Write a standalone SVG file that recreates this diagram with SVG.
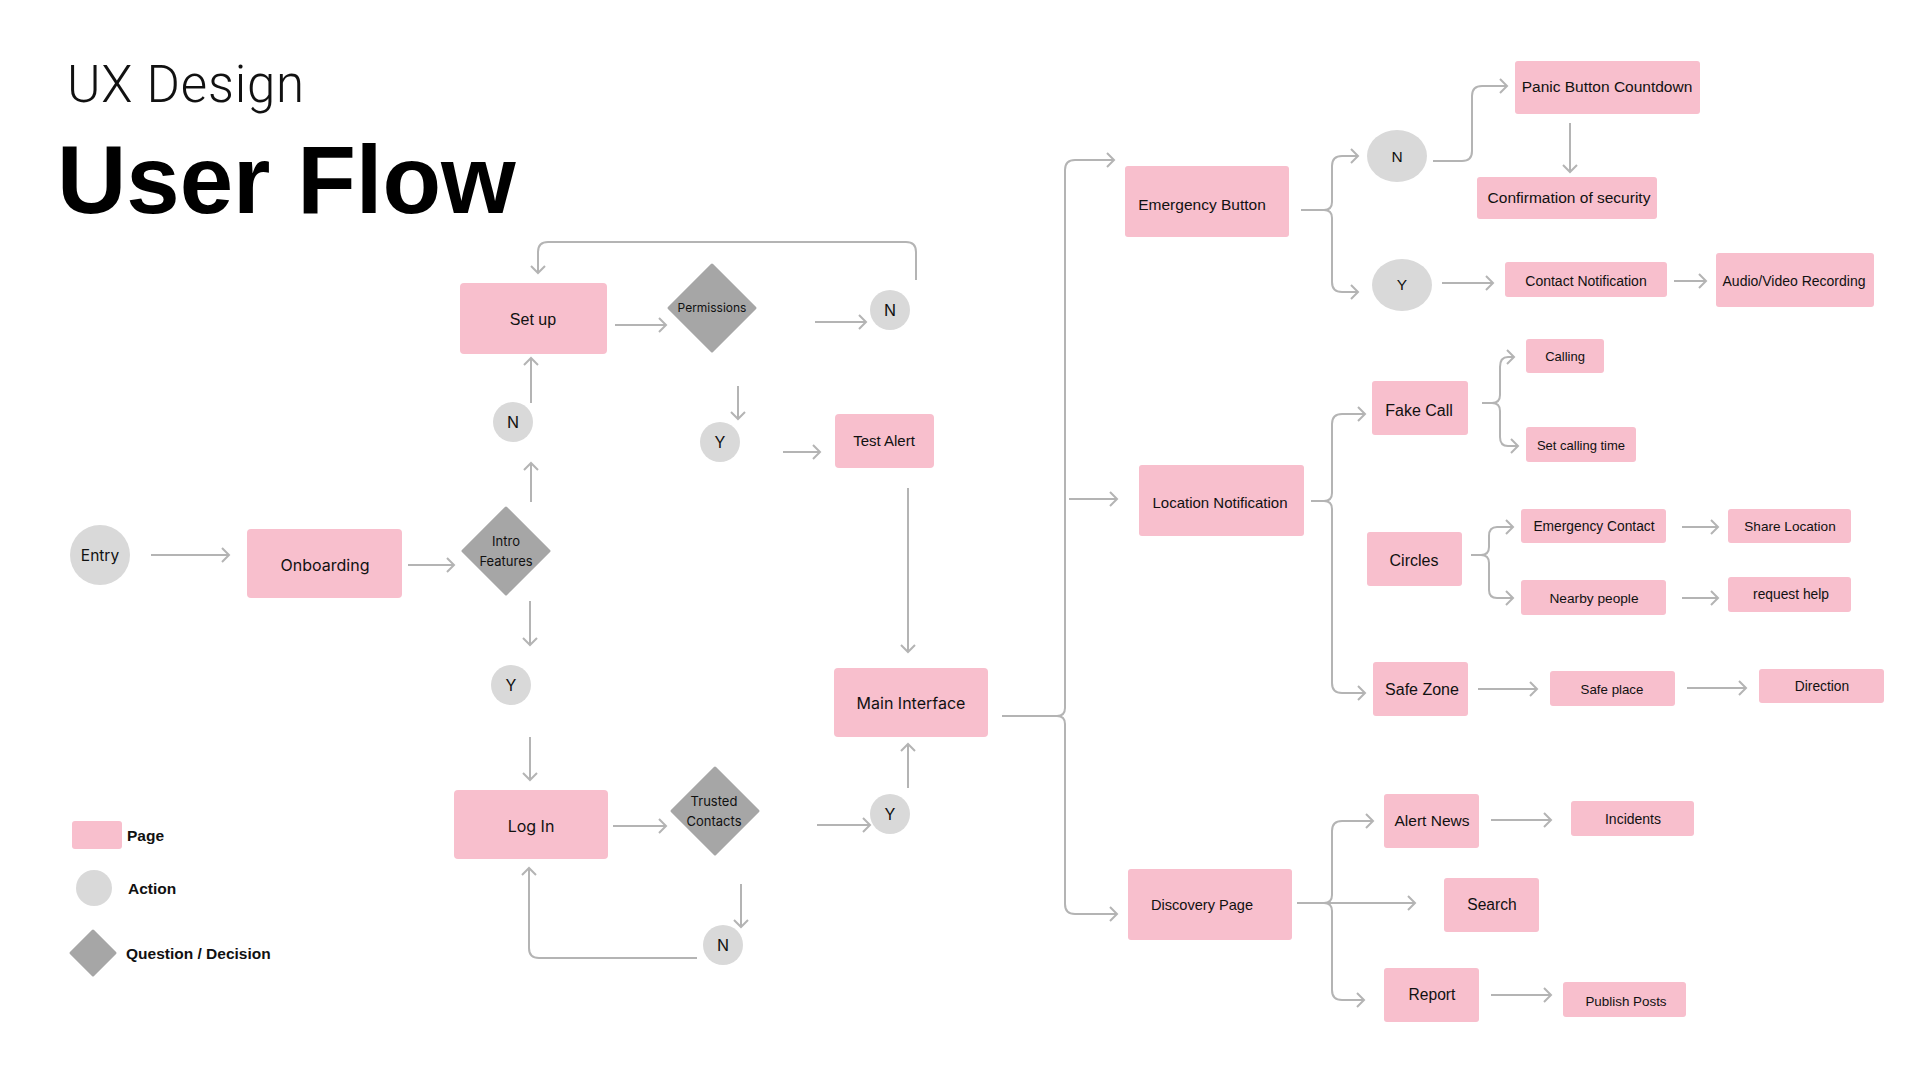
<svg xmlns="http://www.w3.org/2000/svg" width="1920" height="1080" viewBox="0 0 1920 1080">
<defs>
<style>
.pg{fill:#F8BFCD}
.ac{fill:#D9D9D9}
.dc{fill:#A6A6A6;stroke:#A6A6A6;stroke-width:3;stroke-linejoin:round}
.c path{fill:none;stroke:#B4B4B4;stroke-width:2}
.ar{marker-end:url(#ah)}
.ti{font-family:Inter,"Liberation Sans",sans-serif;fill:#111;text-anchor:middle}
.tl{font-family:"Liberation Sans",Arial,sans-serif;fill:#111;text-anchor:middle}
.lg{font-family:"Liberation Sans",Arial,sans-serif;font-weight:bold;font-size:15.5px;fill:#111}
</style>
<marker id="ah" viewBox="-9 -9 11 18" refX="0" refY="0" markerWidth="11" markerHeight="18" markerUnits="userSpaceOnUse" orient="auto">
<path d="M-7,-7 L0,0 L-7,7" fill="none" stroke="#B4B4B4" stroke-width="2"/>
</marker>
</defs>
<rect width="1920" height="1080" fill="#fff"/>

<text x="67" y="102" font-family="Roboto,'Liberation Sans',sans-serif" font-weight="300" font-size="51" letter-spacing="0.8" fill="#111">UX Design</text>
<text x="57" y="213" font-family="'Liberation Sans',Arial,sans-serif" font-weight="bold" font-size="96" fill="#000">User Flow</text>

<g id="connectors" class="c">
<path class="ar" d="M151,555 H229"/>
<path class="ar" d="M408,565 H454"/>
<path class="ar" d="M531,502 V463"/>
<path class="ar" d="M531,403 V358"/>
<path class="ar" d="M615,325 H666"/>
<path class="ar" d="M815,322 H866"/>
<path class="ar" d="M916,280 V252 Q916,242 906,242 H548 Q538,242 538,252 V273"/>
<path class="ar" d="M738,386 V419"/>
<path class="ar" d="M783,452 H820"/>
<path class="ar" d="M908,488 V652"/>
<path class="ar" d="M530,601 V645"/>
<path class="ar" d="M530,737 V780"/>
<path class="ar" d="M613,826 H666"/>
<path class="ar" d="M817,825 H870"/>
<path class="ar" d="M908,788 V744"/>
<path class="ar" d="M741,884 V927"/>
<path class="ar" d="M697,958 H539 Q529,958 529,948 V868"/>

<path class="ar" d="M1002,716 H1057 Q1065,716 1065,708 V170 Q1065,160 1075,160 H1114"/>
<path class="ar" d="M1057,716 Q1065,716 1065,724 V904 Q1065,914 1075,914 H1117"/>
<path class="ar" d="M1069,499 H1117"/>

<path class="ar" d="M1301,210 H1324 Q1332,210 1332,202 V166 Q1332,156 1342,156 H1358"/>
<path class="ar" d="M1324,210 Q1332,210 1332,218 V282 Q1332,292 1342,292 H1358"/>
<path class="ar" d="M1433,161 H1462 Q1472,161 1472,151 V96 Q1472,86 1482,86 H1507"/>
<path class="ar" d="M1570,123 V172"/>
<path class="ar" d="M1442,283 H1493"/>
<path class="ar" d="M1674,281 H1706"/>

<path class="ar" d="M1311,501 H1324 Q1332,501 1332,493 V424 Q1332,414 1342,414 H1365"/>
<path class="ar" d="M1324,501 Q1332,501 1332,509 V683 Q1332,693 1342,693 H1365"/>
<path class="ar" d="M1482,403 H1492 Q1500,403 1500,395 V367 Q1500,357 1508,357 H1514"/>
<path class="ar" d="M1492,403 Q1500,403 1500,411 V437 Q1500,446 1508,446 H1518"/>
<path class="ar" d="M1471,555 H1481 Q1489,555 1489,547 V536 Q1489,527 1497,527 H1513"/>
<path class="ar" d="M1481,555 Q1489,555 1489,563 V590 Q1489,598 1497,598 H1513"/>
<path class="ar" d="M1682,527 H1718"/>
<path class="ar" d="M1682,598 H1718"/>
<path class="ar" d="M1478,689 H1537"/>
<path class="ar" d="M1687,688 H1746"/>

<path class="ar" d="M1297,903 H1324 Q1332,903 1332,895 V831 Q1332,821 1342,821 H1373"/>
<path class="ar" d="M1324,903 H1415"/>
<path class="ar" d="M1324,903 Q1332,903 1332,911 V990 Q1332,1000 1342,1000 H1364"/>
<path class="ar" d="M1491,820 H1551"/>
<path class="ar" d="M1491,995 H1551"/>
</g>

<g id="entry"><circle class="ac" cx="100" cy="555" r="30"/><text class="ti" x="100" y="561" font-size="15.5">Entry</text></g>
<g id="onboarding"><rect class="pg" x="247" y="529" width="155" height="69" rx="4"/><text class="ti" x="325" y="571" font-size="16">Onboarding</text></g>
<g id="intro-features"><polygon class="dc" points="506,508 549,551 506,594 463,551"/><text class="ti" x="506" y="546" font-size="13">Intro</text><text class="ti" x="506" y="566" font-size="13">Features</text></g>
<g id="n-intro"><circle class="ac" cx="513" cy="422" r="20"/><text class="ti" x="513" y="428" font-size="16">N</text></g>
<g id="setup"><rect class="pg" x="460" y="283" width="147" height="71" rx="4"/><text class="tl" x="533" y="325" font-size="16">Set up</text></g>
<g id="permissions"><polygon class="dc" points="712,265 755,308 712,351 669,308"/><text class="ti" x="712" y="312" font-size="12">Permissions</text></g>
<g id="n-perm"><circle class="ac" cx="890" cy="310" r="20"/><text class="ti" x="890" y="316" font-size="16">N</text></g>
<g id="y-perm"><circle class="ac" cx="720" cy="442" r="20"/><text class="ti" x="720" y="448" font-size="16">Y</text></g>
<g id="test-alert"><rect class="pg" x="835" y="414" width="99" height="54" rx="4"/><text class="tl" x="884" y="446" font-size="15">Test Alert</text></g>
<g id="y-intro"><circle class="ac" cx="511" cy="685" r="20"/><text class="ti" x="511" y="691" font-size="16">Y</text></g>
<g id="login"><rect class="pg" x="454" y="790" width="154" height="69" rx="4"/><text class="ti" x="531" y="832" font-size="16">Log In</text></g>
<g id="trusted-contacts"><polygon class="dc" points="715,768 758,811 715,854 672,811"/><text class="ti" x="714" y="806" font-size="13">Trusted</text><text class="ti" x="714" y="826" font-size="13">Contacts</text></g>
<g id="y-trusted"><circle class="ac" cx="890" cy="814" r="20"/><text class="ti" x="890" y="820" font-size="16">Y</text></g>
<g id="n-trusted"><circle class="ac" cx="723" cy="945" r="20"/><text class="ti" x="723" y="951" font-size="16">N</text></g>
<g id="main-interface"><rect class="pg" x="834" y="668" width="154" height="69" rx="4"/><text class="ti" x="911" y="709" font-size="16">Main Interface</text></g>

<g id="emergency-button"><rect class="pg" x="1125" y="166" width="164" height="71" rx="3"/><text class="tl" x="1202" y="210" font-size="15.5">Emergency Button</text></g>
<g id="n-emergency"><ellipse class="ac" cx="1397" cy="156" rx="30" ry="26"/><text class="tl" x="1397" y="162" font-size="15.5">N</text></g>
<g id="panic"><rect class="pg" x="1515" y="61" width="185" height="53" rx="3"/><text class="tl" x="1607" y="92" font-size="15.5">Panic Button Countdown</text></g>
<g id="confirmation"><rect class="pg" x="1477" y="177" width="180" height="42" rx="3"/><text class="tl" x="1569" y="203" font-size="15.5">Confirmation of security</text></g>
<g id="y-emergency"><ellipse class="ac" cx="1402" cy="285" rx="30" ry="26"/><text class="tl" x="1402" y="290" font-size="15.5">Y</text></g>
<g id="contact-notification"><rect class="pg" x="1505" y="262" width="162" height="35" rx="3"/><text class="tl" x="1586" y="286" font-size="14">Contact Notification</text></g>
<g id="audio-video"><rect class="pg" x="1716" y="253" width="158" height="54" rx="3"/><text class="tl" x="1794" y="286" font-size="14">Audio/Video Recording</text></g>

<g id="location-notification"><rect class="pg" x="1139" y="465" width="165" height="71" rx="3"/><text class="tl" x="1220" y="508" font-size="15">Location Notification</text></g>
<g id="fake-call"><rect class="pg" x="1372" y="381" width="96" height="54" rx="3"/><text class="tl" x="1419" y="416" font-size="16">Fake Call</text></g>
<g id="calling"><rect class="pg" x="1526" y="339" width="78" height="34" rx="3"/><text class="tl" x="1565" y="361" font-size="13">Calling</text></g>
<g id="set-calling-time"><rect class="pg" x="1526" y="427" width="110" height="35" rx="3"/><text class="tl" x="1581" y="450" font-size="13">Set calling time</text></g>
<g id="circles"><rect class="pg" x="1367" y="532" width="95" height="54" rx="3"/><text class="tl" x="1414" y="566" font-size="16">Circles</text></g>
<g id="emergency-contact"><rect class="pg" x="1521" y="509" width="145" height="34" rx="3"/><text class="tl" x="1594" y="531" font-size="13.8">Emergency Contact</text></g>
<g id="share-location"><rect class="pg" x="1728" y="509" width="123" height="34" rx="3"/><text class="tl" x="1790" y="531" font-size="13.6">Share Location</text></g>
<g id="nearby-people"><rect class="pg" x="1521" y="580" width="145" height="35" rx="3"/><text class="tl" x="1594" y="603" font-size="13.7">Nearby people</text></g>
<g id="request-help"><rect class="pg" x="1728" y="577" width="123" height="35" rx="3"/><text class="tl" x="1791" y="599" font-size="13.8">request help</text></g>
<g id="safe-zone"><rect class="pg" x="1373" y="662" width="95" height="54" rx="3"/><text class="tl" x="1422" y="695" font-size="16">Safe Zone</text></g>
<g id="safe-place"><rect class="pg" x="1550" y="671" width="125" height="35" rx="3"/><text class="tl" x="1612" y="694" font-size="13.3">Safe place</text></g>
<g id="direction"><rect class="pg" x="1759" y="669" width="125" height="34" rx="3"/><text class="tl" x="1822" y="691" font-size="13.8">Direction</text></g>

<g id="discovery-page"><rect class="pg" x="1128" y="869" width="164" height="71" rx="3"/><text class="tl" x="1202" y="910" font-size="14.6">Discovery Page</text></g>
<g id="alert-news"><rect class="pg" x="1384" y="794" width="95" height="54" rx="3"/><text class="tl" x="1432" y="826" font-size="15.5">Alert News</text></g>
<g id="incidents"><rect class="pg" x="1571" y="801" width="123" height="35" rx="3"/><text class="tl" x="1633" y="824" font-size="14">Incidents</text></g>
<g id="search"><rect class="pg" x="1444" y="878" width="95" height="54" rx="3"/><text class="tl" x="1492" y="910" font-size="15.6">Search</text></g>
<g id="report"><rect class="pg" x="1384" y="968" width="95" height="54" rx="3"/><text class="tl" x="1432" y="1000" font-size="15.6">Report</text></g>
<g id="publish-posts"><rect class="pg" x="1563" y="982" width="123" height="35" rx="3"/><text class="tl" x="1626" y="1006" font-size="13.4">Publish Posts</text></g>

<g id="legend">
<rect class="pg" x="72" y="821" width="50" height="28" rx="3"/>
<text class="lg" x="127" y="841">Page</text>
<circle class="ac" cx="94" cy="888" r="18"/>
<text class="lg" x="128" y="894">Action</text>
<polygon class="dc" points="93,931 115,953 93,975 71,953"/>
<text class="lg" x="126" y="959">Question / Decision</text>
</g>
</svg>
